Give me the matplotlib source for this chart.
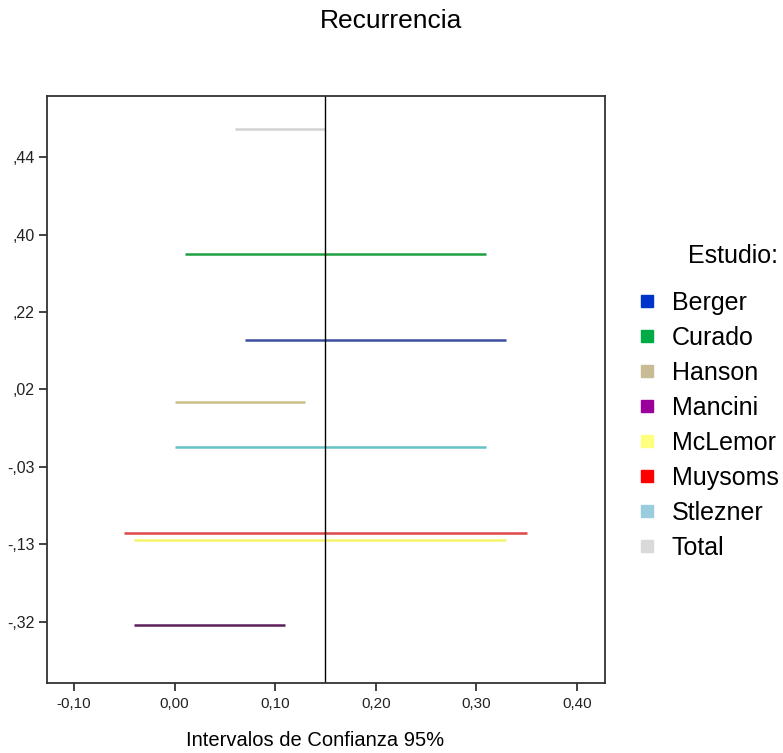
import matplotlib
matplotlib.use("Agg")
import matplotlib.pyplot as plt
from matplotlib.lines import Line2D

plt.rcParams["font.family"] = ["Liberation Sans", "DejaVu Sans"]

# studies (legend order) with CI bounds and vertical position on the category axis
studies = ["Berger", "Curado", "Hanson", "Mancini", "McLemor", "Muysoms", "Stlezner", "Total"]
ci_low = [0.07, 0.01, 0.00, -0.04, -0.04, -0.05, 0.00, 0.06]
ci_high = [0.33, 0.31, 0.13, 0.11, 0.33, 0.35, 0.31, 0.15]
y_pos = [3.64, 4.75, 2.84, -0.04, 1.05, 1.15, 2.26, 6.36]
line_colors = ["#3a4fa0", "#1fa040", "#c8c08a", "#5c1f5c", "#f7f56a", "#dd4848", "#66c2c2", "#d2d2d2"]
legend_colors = ["#0033cc", "#00aa44", "#c8bc96", "#990099", "#ffff80", "#ff0000", "#99ccdd", "#d9d9d9"]

y_ticklabels = ["-,32", "-,13", "-,03", ",02", ",22", ",40", ",44"]
x_ticks = [-0.10, 0.00, 0.10, 0.20, 0.30, 0.40]
ref_value = 0.15

fig = plt.figure(figsize=(7.83, 7.53), dpi=100)
ax = fig.add_axes([0.060, 0.093, 0.7127, 0.7795])

for lo, hi, y, c in zip(ci_low, ci_high, y_pos, line_colors):
    ax.plot([lo, hi], [y, y], color=c, lw=1.8, solid_capstyle="butt")

ax.axvline(ref_value, color="black", lw=1.0)

ax.set_xlim(-0.127, 0.428)
ax.set_ylim(-0.79, 6.79)
ax.set_xticks(x_ticks)
ax.set_xticklabels([f"{v:.2f}".replace(".", ",") for v in x_ticks])
ax.set_yticks(range(len(y_ticklabels)))
ax.set_yticklabels(y_ticklabels)
ax.tick_params(axis="both", direction="out", length=6, width=1.2, labelsize=11,
               colors="#222222", pad=4)
ax.tick_params(axis="y", labelsize=11.5, pad=3)
for s in ax.spines.values():
    s.set_linewidth(1.3)
    s.set_color("#333333")

ax.set_xlabel("Intervalos de Confianza 95%", fontsize=14.5)
ax.xaxis.set_label_coords(0.481, -0.082)
fig.text(0.5, 0.972, "Recurrencia", ha="center", va="center", fontsize=19)

handles = [Line2D([], [], ls="none", marker="s", markersize=9, markerfacecolor=c,
                  markeredgecolor=c) for c in legend_colors]
leg = fig.legend(handles, studies, loc="upper left", bbox_to_anchor=(0.797, 0.692),
                 frameon=False, fontsize=18, title="Estudio:", title_fontsize=18,
                 alignment="right", labelspacing=0.44, handlelength=0.8,
                 handletextpad=0.6, borderpad=0)
leg._legend_box.sep = 16

fig.savefig("out.png", dpi=100)
